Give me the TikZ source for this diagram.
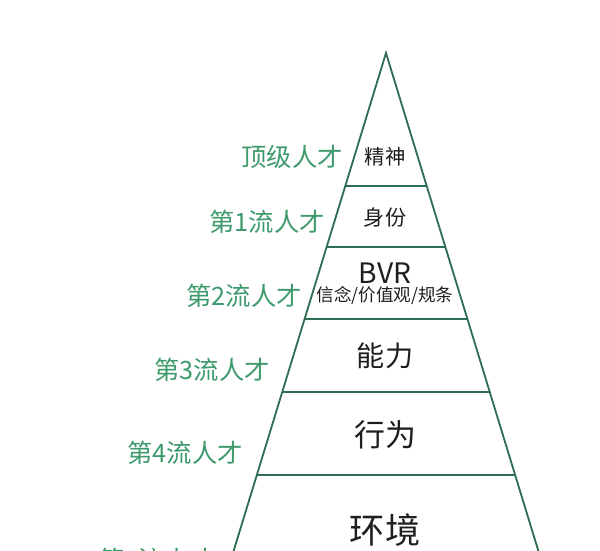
\documentclass[tikz,border=0pt]{standalone}
\usepackage{fontspec}
\setmainfont{Noto Sans CJK SC}
\usetikzlibrary{positioning,calc}
\definecolor{edgegreen}{HTML}{2F6E52}
\definecolor{labelgreen}{HTML}{3E9A6C}
\definecolor{inktext}{HTML}{1E1E1E}

\begin{document}
\begin{tikzpicture}[
        x=0.025cm, y=-0.025cm,
        pyramid/.style={draw=edgegreen, line width=1.3pt},
        level/.style={text=labelgreen, anchor=east, inner sep=0pt, font=\fontsize{18}{20}\selectfont},
        layer/.style={text=inktext, inner sep=0pt},
        sublayer/.style={text=inktext, inner sep=0pt, font=\fontsize{12.5}{14}\selectfont}
    ]
        % frame
        \useasboundingbox (0,0) rectangle (600,551);
        \clip (0,0) rectangle (600,551);

        % Pyramid outline
        \coordinate (apex) at (386,53);
        \coordinate (baseL) at (218.6,600);
        \coordinate (baseR) at (553.4,600);
        \draw[pyramid] (baseL) -- (apex) -- (baseR);

        % Layer separators (clipped to the pyramid)
        \begin{scope}
            \clip (baseL) -- (apex) -- (baseR) -- cycle;
            \foreach \y in {186,247,319,392,475}
                \draw[pyramid] (200,\y) -- (570,\y);
        \end{scope}

        % Layers, top to bottom
        \node[layer, font=\fontsize{14.5}{16}\selectfont] (spirit) at (385,157) {精神};
        \node[layer, font=\fontsize{15}{16}\selectfont] (identity) at (385,218) {身份};
        \node[layer, font=\fontsize{20}{22}\selectfont] (bvr) at (385,273) {BVR};
        \node[sublayer, below=2pt of bvr] (beliefs) {信念/价值观/规条};
        \node[layer, font=\fontsize{20}{22}\selectfont] (ability) at (385,356) {能力};
        \node[layer, font=\fontsize{22}{24}\selectfont] (behavior) at (385,435) {行为};
        \node[layer, font=\fontsize{25}{28}\selectfont] (environ) at (385,530) {环境};

        % Talent levels on the left
        \node[level] (top) at (343,157) {顶级人才};
        \node[level] (first) at (325,222) {第1流人才};
        \node[level] (second) at (302,296) {第2流人才};
        \node[level] (third) at (270,370) {第3流人才};
        \node[level] (fourth) at (243,453) {第4流人才};
        \node[level] (fifth) at (215,560) {第5流人才};

    \end{tikzpicture}
\end{document}
